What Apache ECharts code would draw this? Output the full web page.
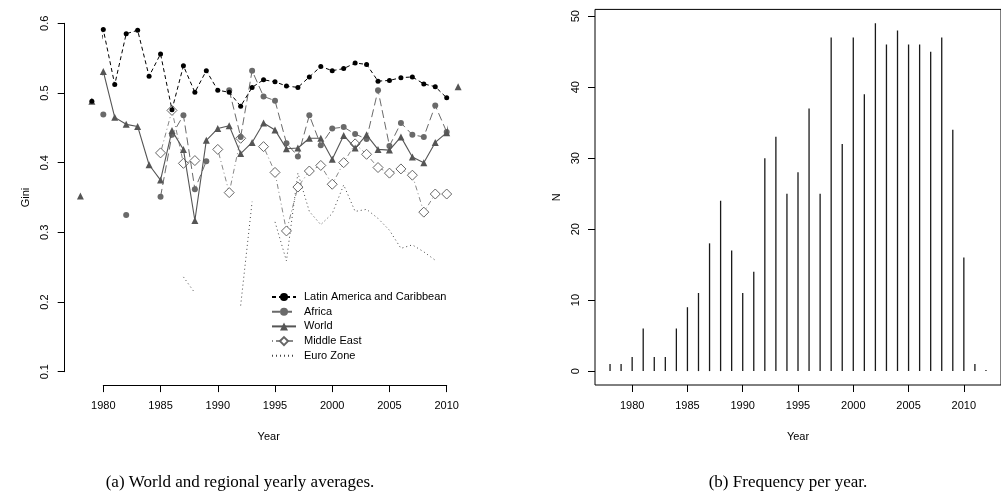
<!DOCTYPE html>
<html>
<head>
<meta charset="utf-8">
<script src="https://cdn.jsdelivr.net/npm/echarts@6/dist/echarts.min.js"></script>
<style>html,body{margin:0;padding:0;background:#fff;}#c{width:1001px;height:497px;}</style>
</head>
<body>
<div id="c"></div>
<script>
// ---- Data (panel a) ----
var years = [1978,1979,1980,1981,1982,1983,1984,1985,1986,1987,1988,1989,1990,1991,1992,1993,1994,1995,1996,1997,1998,1999,2000,2001,2002,2003,2004,2005,2006,2007,2008,2009,2010,2011];
var latinAmerica = [null,0.488,0.591,0.512,0.585,0.590,0.524,0.556,0.476,0.539,0.501,0.532,0.504,0.501,0.481,0.508,0.519,0.516,0.510,0.508,0.523,0.538,0.532,0.535,0.543,0.541,0.517,0.518,0.522,0.523,0.513,0.509,0.493,null];
var africa = [null,null,0.469,null,0.325,null,null,0.351,0.440,0.468,0.362,0.402,null,0.504,0.437,0.532,0.495,0.489,0.428,0.409,0.468,0.425,0.449,0.451,0.441,0.434,0.504,0.424,0.457,0.440,0.437,0.482,0.444,null];
var world = [0.352,0.488,0.531,0.465,0.455,0.452,0.397,0.375,0.446,0.419,0.317,0.432,0.449,0.453,0.413,0.429,0.457,0.447,0.420,0.421,0.435,0.435,0.405,0.439,0.421,0.440,0.419,0.418,0.437,0.408,0.400,0.429,0.443,0.509];
var middleEast = [null,null,null,null,null,null,null,0.414,0.475,0.399,0.403,null,0.419,0.357,0.435,null,0.423,0.386,0.302,0.365,0.388,0.396,0.369,0.400,0.427,0.412,0.393,0.385,0.391,0.382,0.329,0.355,0.355,null];
var euroZone = [null,null,null,null,null,null,null,null,null,0.236,0.213,null,null,null,0.195,0.344,null,0.315,0.259,0.385,0.330,0.311,0.327,0.368,0.330,0.333,0.320,0.303,0.277,0.282,0.272,0.260,null,null];
var seriesNames = ['Latin America and Caribbean','Africa','World','Middle East','Euro Zone'];
var leftYearTicks = [1980,1985,1990,1995,2000,2005,2010];
var giniTicks = [0.1,0.2,0.3,0.4,0.5,0.6];

// ---- Data (panel b) ----
var freqYears = [1978,1979,1980,1981,1982,1983,1984,1985,1986,1987,1988,1989,1990,1991,1992,1993,1994,1995,1996,1997,1998,1999,2000,2001,2002,2003,2004,2005,2006,2007,2008,2009,2010,2011,2012];
var freqN = [1,1,2,6,2,2,6,9,11,18,24,17,11,14,30,33,25,28,37,25,47,32,47,39,49,46,48,46,46,45,47,34,16,1,0];
var rightYearTicks = [1980,1985,1990,1995,2000,2005,2010];
var nTicks = [0,10,20,30,40,50];

var captions = ['(a) World and regional yearly averages.', '(b) Frequency per year.'];

function pairs(xs, ys){ return xs.map(function(x,i){ return [x, ys[i]]; }); }
function yearFmt(v){ return String(Math.round(v)); }

var sansFont = '"Liberation Sans", Arial, sans-serif';
var axisTxt = {color:'#000', fontFamily: sansFont, fontSize: 11};
var capFont = '17px "Liberation Serif", "DejaVu Serif", serif';

var chart = echarts.init(document.getElementById('c'), null, {renderer:'canvas'});

var option = {
  animation: false,
  backgroundColor: '#fff',
  grid: [
    {left: 103.3, top: 23.3, width: 343.4, height: 348.4, show: false},
    {left: 595, top: 9.4, width: 409, height: 375.6, show: true, borderColor: '#000', borderWidth: 1, backgroundColor: 'transparent'}
  ],
  xAxis: [
    {gridIndex: 0, type: 'value', min: 1980, max: 2010, interval: 5, offset: 13.4,
     axisLine: {show: true, onZero: false, lineStyle: {color: '#000', width: 1}},
     axisTick: {show: true, length: 7, lineStyle: {color: '#000'}},
     axisLabel: Object.assign({margin: 15, formatter: yearFmt}, axisTxt),
     splitLine: {show: false},
     name: 'Year', nameLocation: 'middle', nameGap: 46,
     nameTextStyle: Object.assign({padding: [0, 12.6, 0, 0]}, axisTxt)},
    {gridIndex: 1, type: 'value', min: 1976.64, max: 2013.36,
     axisLine: {show: false, onZero: false},
     axisTick: {show: true, length: 7, customValues: rightYearTicks, lineStyle: {color: '#000'}},
     axisLabel: Object.assign({margin: 15, customValues: rightYearTicks, formatter: yearFmt}, axisTxt),
     splitLine: {show: false},
     name: 'Year', nameLocation: 'middle', nameGap: 46, nameTextStyle: axisTxt}
  ],
  yAxis: [
    {gridIndex: 0, type: 'value', min: 0.1, max: 0.6, interval: 0.1, offset: 38.6,
     axisLine: {show: true, onZero: false, lineStyle: {color: '#000', width: 1}},
     axisTick: {show: true, length: 7, lineStyle: {color: '#000'}},
     axisLabel: Object.assign({margin: 14, rotate: 90, formatter: function(v){ return v.toFixed(1); }}, axisTxt),
     splitLine: {show: false},
     name: 'Gini', nameLocation: 'middle', nameGap: 33, nameTextStyle: axisTxt},
    {gridIndex: 1, type: 'value', min: -1.96, max: 50.96,
     axisLine: {show: false, onZero: false},
     axisTick: {show: true, length: 7, customValues: nTicks, lineStyle: {color: '#000'}},
     axisLabel: Object.assign({margin: 14, rotate: 90, customValues: nTicks}, axisTxt),
     splitLine: {show: false},
     name: 'N', nameLocation: 'middle', nameGap: 33, nameTextStyle: axisTxt}
  ],
  legend: {
    data: [
      {name: seriesNames[0]},
      {name: seriesNames[1]},
      {name: seriesNames[2]},
      {name: seriesNames[3]},
      {name: seriesNames[4], itemStyle: {color: 'rgba(0,0,0,0)', borderColor: 'rgba(0,0,0,0)', borderWidth: 0}}
    ],
    orient: 'vertical',
    left: 271, top: 291.5,
    itemWidth: 24, itemHeight: 10, itemGap: 3.7,
    padding: 0,
    textStyle: {color: '#000', fontFamily: sansFont, fontSize: 11, padding: [0,0,0,3]},
    selectedMode: false
  },
  series: [
    {name: seriesNames[0], type: 'line', xAxisIndex: 0, yAxisIndex: 0, data: pairs(years, latinAmerica),
     clip: false, connectNulls: false, symbol: 'circle', symbolSize: 5,
     lineStyle: {color: '#000', width: 1, type: [4,3]},
     itemStyle: {color: '#000'}, z: 6},
    {name: seriesNames[1], type: 'line', xAxisIndex: 0, yAxisIndex: 0, data: pairs(years, africa),
     clip: false, connectNulls: false, symbol: 'circle', symbolSize: 6,
     lineStyle: {color: '#6a6a6a', width: 1, type: [8,4]},
     itemStyle: {color: '#6a6a6a'}, z: 4},
    {name: seriesNames[2], type: 'line', xAxisIndex: 0, yAxisIndex: 0, data: pairs(years, world),
     clip: false, connectNulls: false, symbol: 'triangle', symbolSize: 7,
     lineStyle: {color: '#555', width: 1.1, type: 'solid'},
     itemStyle: {color: '#555'}, z: 5},
    {name: seriesNames[3], type: 'line', xAxisIndex: 0, yAxisIndex: 0, data: pairs(years, middleEast),
     clip: false, connectNulls: false, symbol: 'diamond', symbolSize: [10,10],
     lineStyle: {color: '#888', width: 1, type: [1,3,5,3]},
     itemStyle: {color: '#fff', borderColor: '#666', borderWidth: 1}, z: 3},
    {name: seriesNames[4], type: 'line', xAxisIndex: 0, yAxisIndex: 0, data: pairs(years, euroZone),
     clip: false, connectNulls: false, symbol: 'none',
     lineStyle: {color: '#444', width: 1, type: [1,3]},
     itemStyle: {color: '#444'}, z: 2},
    {name: 'N', type: 'bar', xAxisIndex: 1, yAxisIndex: 1, data: pairs(freqYears, freqN),
     barWidth: 1.3, barMinHeight: 1, itemStyle: {color: '#1a1a1a'}, z: 2}
  ],
  graphic: [
    {type: 'text', x: 240, y: 474, style: {text: captions[0], fill: '#000', font: capFont, align: 'center'}},
    {type: 'text', x: 788, y: 474, style: {text: captions[1], fill: '#000', font: capFont, align: 'center'}}
  ]
};
chart.setOption(option);
</script>
</body>
</html>
